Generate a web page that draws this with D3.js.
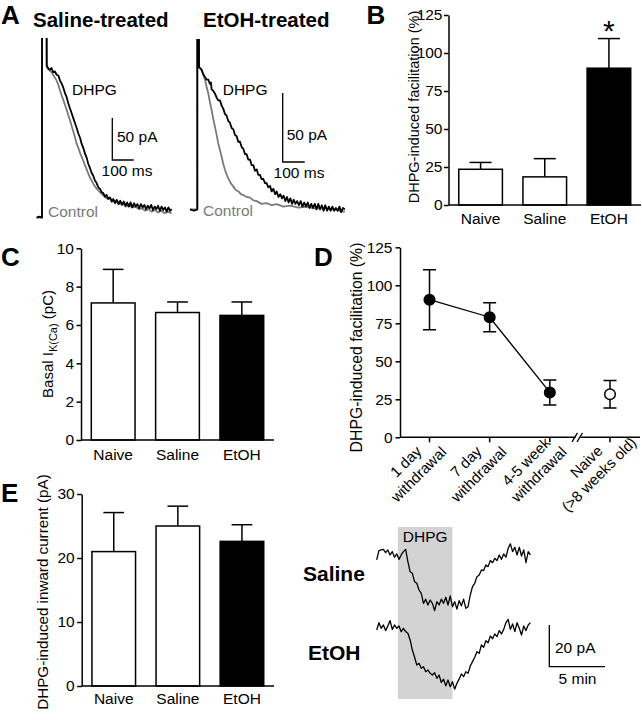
<!DOCTYPE html>
<html><head><meta charset="utf-8">
<script src="https://cdn.jsdelivr.net/npm/d3@7"></script>
<style>
body{margin:0;background:#fff;}
svg{display:block;font-family:"Liberation Sans",Arial,Helvetica,sans-serif;}
</style></head><body>
<svg id="fig" width="642" height="720"></svg>
<script>
// ---------------- DATA ----------------
// Panel A: tail currents, [time (ms), current (pA)]
const salineDHPG = [[-25,-3],[-12,-2],[0,-3],[0,260],[21,260],[22,178],[30,174],[37,173],[44,175],[52,170],[60,171],[68,167],[76,166],[84,160],[92,156],[100,151],[107,145],[115,140],[122,133],[130,127],[138,121],[146,115],[154,109],[162,103],[169,97],[177,92],[184,85],[192,80],[200,73],[208,68],[215,61],[223,56],[231,50],[238,47],[246,41],[254,38],[262,33],[270,31],[278,27],[285,26],[293,22],[300,24],[308,19],[316,21],[324,16],[332,19],[340,14],[348,18],[356,13],[364,17],[372,12],[380,16],[388,11],[396,15],[404,10],[412,15],[420,9],[428,14],[436,10],[444,13],[452,8],[460,13],[468,9],[476,12],[484,7],[492,11],[500,8],[508,12],[516,6],[524,10],[532,7],[540,11],[548,5],[556,10],[564,6],[572,9],[580,4],[588,9],[596,5],[603,7]];
const salineControl = [[-25,-3],[0,-3],[0,260],[21,260],[22,176],[35,172],[45,170],[56,165],[68,160],[76,155],[84,148],[92,142],[99,137],[107,131],[115,125],[122,119],[130,113],[138,106],[146,99],[154,92],[161,85],[169,80],[177,74],[185,69],[193,64],[200,59],[208,54],[216,49],[224,44],[231,41],[239,37],[247,34],[255,31],[263,29],[270,27],[278,25],[286,23],[294,21],[302,20],[316,20],[330,16],[345,17],[360,13],[375,14],[390,10],[405,12],[420,9],[435,10],[450,7],[465,8],[480,5],[495,7],[510,4],[525,6],[540,3],[555,5],[570,2],[585,4],[603,2]];
const etohDHPG = [[-33,-1],[-15,-2],[0,-1],[0,160],[7,160],[8,102],[15,101],[20,100],[27,97],[35,95],[42,93],[50,93],[57,90],[62,91],[65,86],[72,85],[80,83],[88,80],[95,78],[103,78],[111,74],[118,72],[126,68],[133,67],[141,63],[148,62],[156,58],[164,57],[171,53],[179,52],[186,48],[194,48],[202,44],[209,43],[217,39],[224,39],[232,35],[240,35],[247,31],[255,31],[262,27],[270,28],[277,24],[285,24],[292,21],[300,21],[308,18],[315,18],[323,15],[331,16],[338,12],[346,14],[354,10],[361,12],[369,8],[377,10],[385,7],[392,9],[400,5],[408,8],[415,4],[423,7],[431,3],[438,6],[446,3],[454,5],[462,2],[470,5],[478,1],[486,4],[494,1],[502,4],[510,0],[518,3],[526,0],[534,3],[542,-1],[550,3],[558,-1],[566,2],[574,-2],[582,2],[590,-2],[598,1],[606,-2],[614,1],[622,-2],[630,0],[638,-2],[646,1],[654,-3],[662,0],[671,-1]];
const etohControl = [[-33,-1],[0,-1],[0,160],[7,160],[8,102],[20,100],[28,96],[35,93],[42,88],[50,83],[57,77],[65,71],[72,65],[80,59],[88,53],[95,47],[103,42],[111,37],[118,32],[126,27.5],[134,24],[141,21.5],[152,18],[164,15.5],[175,13],[187,12],[198,10],[209,9.4],[224,8],[240,7.5],[255,5.5],[270,5],[292,3],[315,3.5],[338,2],[361,2.8],[391,1],[421,1.8],[460,0.2],[497,1],[535,-0.5],[573,0.3],[603,-1],[633,-1.2],[652,-2.2],[671,-2.7]];

// Bar charts (B, C, E)
const groups = ["Naive", "Saline", "EtOH"];
const groupFill = ["#fff", "#fff", "#000"];
const facilitation = [23.5, 18.5, 90];
const facilitationErr = [4.5, 12, 19.5];
const basalIK = [7.15, 6.65, 6.5];
const basalIKErr = [1.75, 0.55, 0.7];
const inwardCurrent = [21, 25, 22.6];
const inwardCurrentErr = [6.1, 3.1, 2.6];

// Panel D
const withdrawalLabels = [["1 day", "withdrawal"], ["7 day", "withdrawal"], ["4-5 week", "withdrawal"], ["Naive", "(>8 weeks old)"]];
const withdrawalFacil = [90.5, 79, 29.5, 28.3];
const withdrawalErr = [19.7, 9.6, 8.2, 9.1];

// Panel E traces: current (pA) sampled every 0.2 min
const eSampleMin = 0.2;
const salineInward = [-3.2,1.3,1.6,1.9,0.3,1.6,-0.8,0.8,-1.9,-0.3,-2.9,-0.8,0.8,1.9,-4.0,-8.8,-9.6,-13.6,-14.4,-17.6,-19.2,-24.0,-22.0,-24.8,-22.4,-24.0,-27.5,-23.2,-24.8,-22.0,-24.0,-21.1,-24.8,-20.4,-25.6,-23.2,-26.8,-22.7,-25.2,-22.0,-26.4,-25.6,-20.0,-16.0,-14.4,-11.2,-10.4,-8.0,-8.3,-5.6,-6.4,-3.5,-4.5,-2.4,-3.5,-0.8,-2.9,-0.3,-1.9,2.4,4.5,0.8,2.9,-0.8,2.9,-1.3,1.6,-4.5,0.8,-0.8];
const etohInward = [-0.8,2.7,0,1.6,-1.1,1.1,3.7,-0.5,1.6,0,1.1,-1.6,0,-1.6,-2.4,-5.6,-10.4,-13.9,-17.6,-16.8,-19.2,-18.4,-20.8,-20.0,-21.6,-22.4,-21.3,-24.0,-22.4,-26.0,-24.4,-27.6,-24.8,-28.0,-25.6,-29.2,-26.4,-24.4,-21.9,-23.2,-20.8,-21.6,-18.1,-16.0,-13.9,-11.2,-12.0,-8.0,-9.1,-5.9,-6.9,-3.7,-5.0,-2.7,-4.0,-1.1,-2.7,-0.5,2.7,4.3,-0.5,2.1,-1.6,2.7,0,-3.2,1.1,-1.1,1.6,2.7];
const dhpgWindow = [1.9, 6.8]; // min

// Tick values
const ticksFacil = [0, 25, 50, 75, 100, 125];
const ticksBasal = [0, 2, 4, 6, 8, 10];
const ticksInward = [0, 10, 20, 30];

// ---------------- DRAWING ----------------
const svg = d3.select("#fig");
const FS = 15.5;
const SW = 1.5;

function letter(t, x, y) {
  svg.append("text").attr("x", x).attr("y", y).attr("font-size", 26).attr("font-weight", "bold").text(t);
}
function txt(g, t, x, y, opts = {}) {
  return g.append("text").attr("x", x).attr("y", y).attr("font-size", opts.fs || FS)
    .attr("font-weight", opts.bold ? "bold" : null).attr("fill", opts.fill || "#000")
    .attr("text-anchor", opts.anchor || "start").text(t);
}
function yAxis(g, y, x0, ticks, pad) {
  const ax = g.append("g").attr("transform", `translate(${x0},0)`)
    .call(d3.axisLeft(y).tickValues(ticks).tickSize(4.5).tickSizeOuter(0).tickPadding(pad));
  ax.attr("font-family", null).attr("font-size", null);
  ax.selectAll("text").attr("font-size", FS).attr("fill", "#000");
  ax.selectAll("path,line").attr("stroke", "#000").attr("stroke-width", SW);
  return ax;
}
function yTitle(g, x, y, fs) {
  return g.append("text").attr("transform", `translate(${x},${y}) rotate(-90)`)
    .attr("text-anchor", "middle").attr("font-size", fs);
}

function barPanel(o) {
  const g = svg.append("g");
  const x = d3.scaleBand().domain(groups).range([o.x0, o.x1]).paddingInner(0.32).paddingOuter(0.16);
  const y = d3.scaleLinear().domain([0, o.ymax]).range([o.yb, o.yt]);
  const eb = g.append("g").attr("stroke", "#000").attr("stroke-width", SW);
  groups.forEach((k, i) => {
    const cx = x(k) + x.bandwidth() / 2;
    eb.append("line").attr("x1", cx).attr("x2", cx).attr("y1", y(o.vals[i])).attr("y2", y(o.vals[i] + o.errs[i]));
    eb.append("line").attr("x1", cx - o.cap / 2).attr("x2", cx + o.cap / 2)
      .attr("y1", y(o.vals[i] + o.errs[i])).attr("y2", y(o.vals[i] + o.errs[i]));
  });
  g.selectAll("rect.bar").data(groups).join("rect").attr("class", "bar")
    .attr("x", d => x(d)).attr("width", x.bandwidth())
    .attr("y", (d, i) => y(o.vals[i])).attr("height", (d, i) => y(0) - y(o.vals[i]))
    .attr("fill", (d, i) => groupFill[i]).attr("stroke", "#000").attr("stroke-width", SW);
  yAxis(g, y, o.x0, o.ticks, o.pad);
  g.append("line").attr("x1", o.x0).attr("x2", o.x1).attr("y1", y(0)).attr("y2", y(0))
    .attr("stroke", "#000").attr("stroke-width", SW);
  g.selectAll("text.cat").data(groups).join("text").attr("class", "cat")
    .attr("x", d => x(d) + x.bandwidth() / 2).attr("y", o.yb + o.catDy)
    .attr("text-anchor", "middle").attr("font-size", FS).text(d => d);
  return {g, x, y};
}

// ---------- Panel A ----------
letter("A", 1, 23.5);
const gA = svg.append("g");
txt(gA, "Saline-treated", 33, 27, {bold: true, fs: 20.5});
txt(gA, "EtOH-treated", 203, 27, {bold: true, fs: 20.5});
svg.append("defs").html('<clipPath id="clipA1"><rect x="30" y="38" width="150" height="200"/></clipPath><clipPath id="clipA2"><rect x="185" y="39" width="160" height="200"/></clipPath>');

const xA1 = d3.scaleLinear().domain([0, 100]).range([42, 63.5]);
const yA1 = d3.scaleLinear().domain([0, 50]).range([215, 173]);
const xA2 = d3.scaleLinear().domain([0, 100]).range([197.3, 219.3]);
const yA2 = d3.scaleLinear().domain([0, 50]).range([208, 139]);

function trace(g, data, x, y, color, w, clip) {
  g.append("path").datum(data)
    .attr("d", d3.line().x(d => x(d[0])).y(d => y(d[1])))
    .attr("fill", "none").attr("stroke", color).attr("stroke-width", w)
    .attr("stroke-linejoin", "round").attr("clip-path", clip ? `url(#${clip})` : null);
}
trace(gA, salineControl, xA1, yA1, "#7a7a7a", 1.8, "clipA1");
trace(gA, salineDHPG, xA1, yA1, "#000", 1.8, "clipA1");
trace(gA, etohControl, xA2, yA2, "#7a7a7a", 1.8, "clipA2");
trace(gA, etohDHPG, xA2, yA2, "#000", 1.8, "clipA2");

function scaleBar(g, cx, cy, x, y, ampl, dur, w) {
  const h = y(0) - y(ampl), l = x(dur) - x(0);
  g.append("path").attr("d", `M${cx},${cy - h}V${cy}H${cx + l}`)
    .attr("fill", "none").attr("stroke", "#000").attr("stroke-width", w || 1.3);
}
scaleBar(gA, 112.3, 160, xA1, yA1, 50, 100);
scaleBar(gA, 282.7, 162, xA2, yA2, 50, 100);
txt(gA, "DHPG", 72, 95);
txt(gA, "50 pA", 117, 142);
txt(gA, "100 ms", 127, 175.5, {anchor: "middle"});
txt(gA, "Control", 48, 217, {fill: "#7a7a7a"});
txt(gA, "DHPG", 222.7, 95);
txt(gA, "50 pA", 286.7, 140);
txt(gA, "100 ms", 299, 177.5, {anchor: "middle"});
txt(gA, "Control", 203, 216, {fill: "#7a7a7a"});

// ---------- Panel B ----------
letter("B", 366.5, 23.5);
const B = barPanel({x0: 448.5, x1: 641, yb: 205, yt: 15, ymax: 125, ticks: ticksFacil,
  vals: facilitation, errs: facilitationErr, cap: 22, pad: 1.5, catDy: 18.5});
yTitle(B.g, 419, 107, 14.5).text("DHPG-induced facilitation (%)");
B.g.append("text").attr("x", B.x("EtOH") + B.x.bandwidth() / 2).attr("y", 41)
  .attr("text-anchor", "middle").attr("font-size", 30).text("*");

// ---------- Panel C ----------
letter("C", 1, 265.5);
const C = barPanel({x0: 81, x1: 274, yb: 440, yt: 248.3, ymax: 10, ticks: ticksBasal,
  vals: basalIK, errs: basalIKErr, cap: 20.7, pad: 2.5, catDy: 20});
const tC = yTitle(C.g, 53, 344, 15);
tC.append("tspan").text("Basal I");
tC.append("tspan").attr("font-size", 11).attr("dy", 4).text("K(Ca)");
tC.append("tspan").attr("dy", -4).text(" (pC)");

// ---------- Panel D ----------
letter("D", 314, 265.5);
const gD = svg.append("g");
const keysD = withdrawalLabels.map(d => d.join(" "));
const xD = d3.scalePoint().domain(keysD).range([429.5, 610]);
const yD = d3.scaleLinear().domain([0, 125]).range([437.3, 247.3]);
yAxis(gD, yD, 400, ticksFacil, 3);
const axY = yD(0);
gD.append("path").attr("d", `M400,${axY}H575.5M580.5,${axY}H640`).attr("stroke", "#000").attr("stroke-width", SW).attr("fill", "none");
gD.append("path").attr("d", `M572,${axY + 4.5}L577.5,${axY - 4.5}M577,${axY + 4.5}L582.5,${axY - 4.5}`)
  .attr("stroke", "#000").attr("stroke-width", 1.3).attr("fill", "none");
keysD.forEach(k => {
  gD.append("line").attr("x1", xD(k)).attr("x2", xD(k)).attr("y1", axY).attr("y2", axY + 5)
    .attr("stroke", "#000").attr("stroke-width", SW);
});
withdrawalLabels.forEach((lines, i) => {
  const t = gD.append("text").attr("font-size", 15).attr("text-anchor", "middle")
    .attr("transform", `translate(${xD(keysD[i]) - 20},${axY + 28}) rotate(-45)`);
  t.append("tspan").attr("x", 0).attr("dy", 0).text(lines[0]);
  t.append("tspan").attr("x", 0).attr("dy", "1.2em").text(lines[1]);
});
keysD.forEach((k, i) => {
  const cx = xD(k), v = withdrawalFacil[i], e = withdrawalErr[i];
  gD.append("path").attr("d", `M${cx},${yD(v - e)}V${yD(v + e)}M${cx - 6.5},${yD(v + e)}H${cx + 6.5}M${cx - 6.5},${yD(v - e)}H${cx + 6.5}`)
    .attr("stroke", "#000").attr("stroke-width", SW).attr("fill", "none");
});
gD.append("path").datum(keysD.slice(0, 3))
  .attr("d", d3.line().x(k => xD(k)).y((k, i) => yD(withdrawalFacil[i])))
  .attr("fill", "none").attr("stroke", "#000").attr("stroke-width", 1.3);
gD.selectAll("circle").data(keysD).join("circle")
  .attr("cx", k => xD(k)).attr("cy", (k, i) => yD(withdrawalFacil[i])).attr("r", 5.3)
  .attr("fill", (k, i) => i === 3 ? "#fff" : "#000").attr("stroke", "#000").attr("stroke-width", 1.5);
yTitle(gD, 361.5, 347.5, 15.8).text("DHPG-induced facilitation (%)");

// ---------- Panel E ----------
letter("E", 1, 502);
const E = barPanel({x0: 81.7, x1: 274, yb: 686, yt: 494, ymax: 30, ticks: ticksInward,
  vals: inwardCurrent, errs: inwardCurrentErr, cap: 20.7, pad: 2.5, catDy: 17.5});
yTitle(E.g, 48.3, 592, 15.2).text("DHPG-induced inward current (pA)");

const gE = svg.append("g");
const xE = d3.scaleLinear().domain([0, 5]).range([376.7, 432.4]);
const yES = d3.scaleLinear().domain([0, 20]).range([553.3, 511.6]);
const yEE = d3.scaleLinear().domain([0, 20]).range([628.3, 586.6]);
gE.append("rect").attr("x", xE(dhpgWindow[0])).attr("width", xE(dhpgWindow[1]) - xE(dhpgWindow[0]))
  .attr("y", 527).attr("height", 172).attr("fill", "#d3d3d3");
txt(gE, "DHPG", (xE(dhpgWindow[0]) + xE(dhpgWindow[1])) / 2, 541.5, {anchor: "middle"});
const lineE = yy => d3.line().x((d, i) => xE(i * eSampleMin)).y(d => yy(d));
gE.append("path").datum(salineInward).attr("d", lineE(yES)).attr("fill", "none").attr("stroke", "#000").attr("stroke-width", 1.3).attr("stroke-linejoin", "round");
gE.append("path").datum(etohInward).attr("d", lineE(yEE)).attr("fill", "none").attr("stroke", "#000").attr("stroke-width", 1.3).attr("stroke-linejoin", "round");
txt(gE, "Saline", 303, 580.7, {bold: true, fs: 21});
txt(gE, "EtOH", 308, 660, {bold: true, fs: 21});
scaleBar(gE, 549.3, 666.7, xE, yES, 20, 5, 1.3);
txt(gE, "20 pA", 555, 653);
txt(gE, "5 min", 577.5, 684, {anchor: "middle"});
</script>
</body></html>
